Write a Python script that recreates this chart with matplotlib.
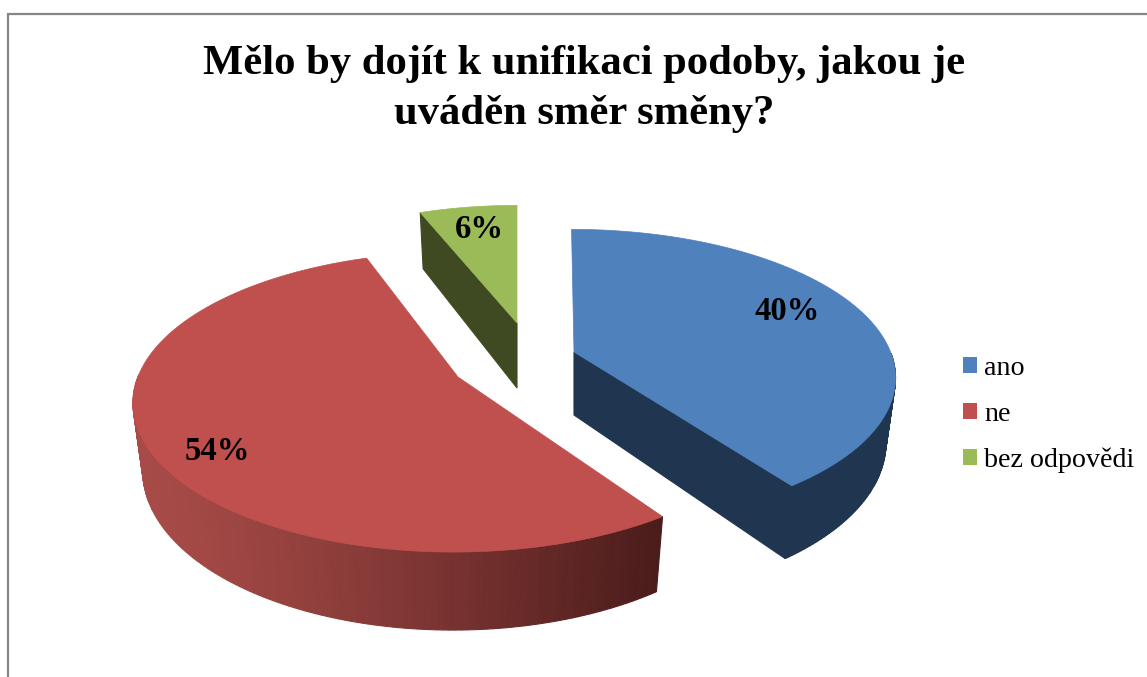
# -*- coding: utf-8 -*-
"""
3D looking exploded pie chart, survey answers.
"""

import matplotlib
matplotlib.use("Agg")
import matplotlib.pyplot as plt
from matplotlib.patches import Patch, Polygon
from matplotlib.colors import to_rgb
import numpy as np

title = "Mělo by dojít k unifikaci podoby, jakou je\nuváděn směr směny?"
categories = ["ano", "ne", "bez odpovědi"]
shares = [40, 54, 6]

top_colors = ["#4F81BD", "#C0504D", "#9BBB59"]
wall_colors = ["#1F3550", "#A84B48", "#3F4A22"]
wall_end_colors = ["#1F3550", "#4A1C1A", "#3F4A22"]

# pie geometry in pixels, one entry per slice
centers = [(574, 352), (458, 377), (517, 323)]
label_pos = [(787, 312), (217, 452), (479, 230)]
x_sizes = [0.98, 0.985, 0.94]
y_sizes = [0.98, 1.0, 0.94]
shears = [0.02, -0.085, 0.0]
tilts = [0.0, 0.015, 0.0]
depths = [63, 65, 65]
radius = 323
squash = 146
persp = 0.1667
shrink = 0.03

plt.rcParams["font.family"] = ["Liberation Serif", "DejaVu Serif"]

fig = plt.figure(figsize=(11.47, 6.77), dpi=100)
ax = fig.add_axes([0, 0, 1, 1])
ax.set_xlim(0, 1147)
ax.set_ylim(677, 0)
ax.axis("off")


def project(i, theta, r=1.0, level=0.0):
    # theta clockwise from the back of the pie, level 0 top face, 1 bottom face
    cx, cy = centers[i]
    s = 1 / (1 + persp * r * np.cos(theta))
    dy = -squash * y_sizes[i] * r * np.cos(theta) * s
    dx = radius * x_sizes[i] * r * np.sin(theta) * s + shears[i] * dy
    x = cx + dx * (1 - shrink * level)
    y = cy + dy + tilts[i] * dx + level * depths[i] * s
    return np.column_stack([x, y])


def mix(c1, c2, t):
    c1, c2 = np.array(to_rgb(c1)), np.array(to_rgb(c2))
    return tuple(c1 + (c2 - c1) * t)


def draw_slice(i, start, end):
    theta = np.linspace(start, end, 200)
    apex = project(i, np.array([0.0]), r=0.0)
    apex_low = project(i, np.array([0.0]), r=0.0, level=1.0)

    # outer wall, only the part facing us
    vis = theta[(theta > np.pi / 2) & (theta < 3 * np.pi / 2)]
    if len(vis) > 1:
        upper = project(i, vis)
        lower = project(i, vis, level=1.0)
        xmin, xmax = upper[:, 0].min(), upper[:, 0].max()
        for k in range(len(vis) - 1):
            t = ((upper[k, 0] - xmin) / (xmax - xmin)) ** 1.3
            col = mix(wall_colors[i], wall_end_colors[i], t)
            quad = [upper[k], upper[k + 1], lower[k + 1], lower[k]]
            ax.add_patch(Polygon(quad, closed=True, fc=col, ec=col, lw=0.8))

    # cut faces turned towards us
    if np.sin(end) > 1e-6 or np.sin(start) < -1e-6:
        ang = end if np.sin(end) > 1e-6 else start
        rim = project(i, np.array([ang]))
        rim_low = project(i, np.array([ang]), level=1.0)
        face = np.vstack([apex, rim, rim_low, apex_low])
        ax.add_patch(Polygon(face, closed=True, fc=wall_colors[i],
                             ec=wall_colors[i], lw=0.8))

    # top face
    top = np.vstack([apex, project(i, theta)])
    ax.add_patch(Polygon(top, closed=True, fc=top_colors[i],
                         ec=top_colors[i], lw=0.5))


edges = 2 * np.pi * np.cumsum([0] + shares) / sum(shares)
for i in [1, 2, 0]:
    draw_slice(i, edges[i], edges[i + 1])

for i, share in enumerate(shares):
    ax.text(label_pos[i][0], label_pos[i][1], "%d%%" % share, fontsize=23.5,
            fontweight="bold", ha="center", va="center", color="black")

ax.text(584, 89, title, fontsize=30.7, fontweight="bold", ha="center",
        va="center", linespacing=1.42, color="black")

# chart frame runs off the picture at right and bottom
ax.plot([7.5, 7.5, 1147], [677, 13.5, 13.5], color="#868686", lw=1.6,
        solid_joinstyle="miter")

handles = [Patch(fc=c, ec=c, lw=0) for c in top_colors]
ax.legend(handles, categories, loc="center left",
          bbox_to_anchor=(963 / 1147, 1 - 414.5 / 677), frameon=False,
          fontsize=20.2, handlelength=0.5, handleheight=0.5,
          handletextpad=0.25, labelspacing=0.74, borderpad=0, borderaxespad=0)

fig.savefig("out.png", dpi=100)
